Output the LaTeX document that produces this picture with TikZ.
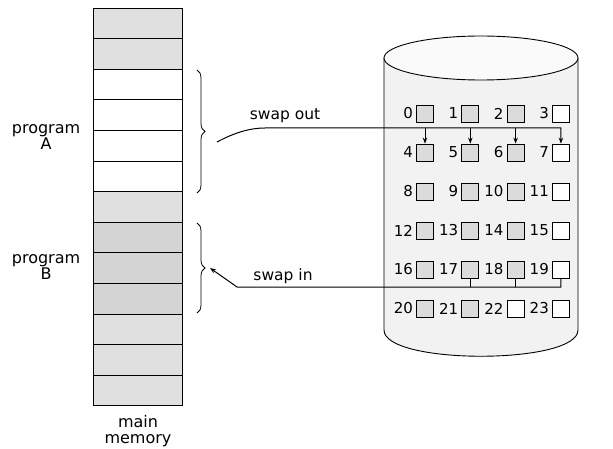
\documentclass[tikz,border=0pt]{standalone}
\usepackage{fontspec}
\setmainfont{DejaVu Sans}
\usetikzlibrary{positioning,arrows.meta,decorations.pathreplacing}
\definecolor{memgray}{gray}{0.88}
\definecolor{bgray}{gray}{0.83}
\definecolor{diskfill}{gray}{0.95}
\definecolor{boxgray}{gray}{0.86}
\tikzset{
  cell/.style={draw, line width=0.9pt, minimum width=89pt, minimum height=30.6pt, inner sep=0pt},
  slot/.style={draw, line width=0.8pt, minimum size=17pt, inner sep=0pt},
  num/.style={inner sep=0pt, font=\fontsize{15}{15}\selectfont},
  lbl/.style={align=center, font=\fontsize{16}{16}\selectfont},
  wire/.style={line width=1pt}
}
\begin{document}
\begin{tikzpicture}[x=1pt,y=-1pt,>={Stealth[length=6pt,width=4.5pt]}]
\useasboundingbox (0,0) rectangle (613,449);
% main memory
\foreach \i/\c in {0/memgray,1/memgray,2/white,3/white,4/white,5/white,6/memgray,
                   7/bgray,8/bgray,9/bgray,10/memgray,11/memgray,12/memgray}
  \node[cell, fill=\c] (m\i) at (137.5,{8+30.6*\i+15.3}) {};
\node[lbl] (progA) at (46,137) {program\\A};
\node[lbl] (progB) at (46,267) {program\\B};
\node[lbl] (mainmem) at (138,431) {main\\memory};
% braces
\draw[line width=0.8pt, decorate, decoration={brace, amplitude=8pt}] (197,70) -- (197,193);
\draw[line width=0.8pt, decorate, decoration={brace, amplitude=8pt}] (197,223) -- (197,313);
% backing store
\draw[line width=0.9pt, fill=diskfill] (384,58) -- (384,330) .. controls (384,365) and (578,365) .. (578,330) -- (578,58);
\draw[line width=0.9pt, fill=white!60!diskfill] (481,58) ellipse [x radius=97, y radius=22];
\foreach \n in {0,...,23}{
  \pgfmathtruncatemacro\c{mod(\n,4)}
  \pgfmathtruncatemacro\r{\n/4}
  \def\boxfill{boxgray}
  \ifnum\c=3 \def\boxfill{white}\fi
  \ifnum\n=22 \def\boxfill{white}\fi
  \node[slot, fill=\boxfill] (b\n) at ({425+45.3*\c},{113.5+39*\r}) {};
  \node[num, left=3pt of b\n] (n\n) {\n};
}
% swap out
\coordinate (outA) at (217,142);
\coordinate (busA) at (265,128);
\node[lbl, font=\fontsize{15.5}{15.5}\selectfont] (swapout) at (285,116) {swap out};
\draw[wire,->] (outA) .. controls (232,134) and (248,128) .. (busA) -- (b7.north |- busA) -- (b7.north);
\foreach \n in {4,5,6}
  \draw[wire,->] (b\n.north |- busA) -- (b\n.north);
% swap in
\coordinate (inB) at (210,268);
\coordinate (busB) at (237,287);
\node[lbl, font=\fontsize{15.5}{15.5}\selectfont] (swapin) at (283,276) {swap in};
\draw[wire,->] (b19.south) -- (b19.south |- busB) -- (busB) -- (inB);
\foreach \n in {17,18}
  \draw[wire] (b\n.south) -- (b\n.south |- busB);
\end{tikzpicture}
\end{document}
